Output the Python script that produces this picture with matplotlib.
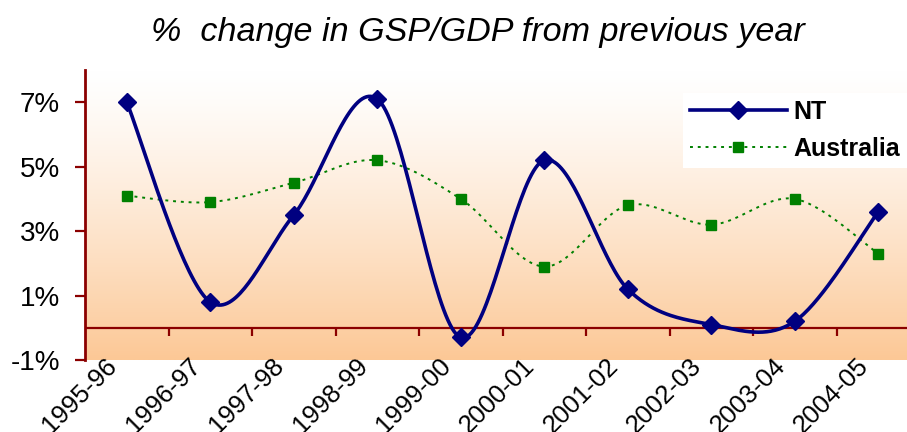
import numpy as np
import matplotlib
matplotlib.use("Agg")
import matplotlib.pyplot as plt
from matplotlib.lines import Line2D
import matplotlib.transforms as mtransforms

categories = ["1995-96", "1996-97", "1997-98", "1998-99", "1999-00",
              "2000-01", "2001-02", "2002-03", "2003-04", "2004-05"]
nt = [7.0, 0.8, 3.5, 7.1, -0.3, 5.2, 1.2, 0.1, 0.2, 3.6]
australia = [4.1, 3.9, 4.5, 5.2, 4.0, 1.9, 3.8, 3.2, 4.0, 2.3]
yticks = [-1, 1, 3, 5, 7]
ytick_labels = ["-1%", "1%", "3%", "5%", "7%"]
title = "%  change in GSP/GDP from previous year"

plt.rcParams['font.family'] = ['Liberation Sans', 'DejaVu Sans']

MAROON = "#8B0000"
NAVY = "#000080"
GREEN = "#008000"


def smooth(xs, ys, n=40):
    """Catmull-Rom (Excel-style) smoothing through the data points."""
    p = np.column_stack([xs, ys]).astype(float)
    pts = np.vstack([p[0], p, p[-1]])
    out = []
    for i in range(1, len(pts) - 2):
        p0, p1, p2, p3 = pts[i - 1], pts[i], pts[i + 1], pts[i + 2]
        c1 = p1 + (p2 - p0) / 6.0
        c2 = p2 - (p3 - p1) / 6.0
        t = np.linspace(0, 1, n)[:, None]
        seg = ((1 - t) ** 3) * p1 + 3 * ((1 - t) ** 2) * t * c1 + 3 * (1 - t) * t ** 2 * c2 + t ** 3 * p2
        out.append(seg if i == 1 else seg[1:])
    s = np.vstack(out)
    return s[:, 0], s[:, 1]


fig = plt.figure(figsize=(9.07, 4.32), dpi=100)
ax = fig.add_axes([85 / 907, 1 - 360 / 432, (920 - 85) / 907, (360 - 70) / 432])

x = np.arange(len(categories))

# gradient background (white at top, peach at bottom)
top = np.array([1.0, 1.0, 1.0])
bot = np.array([252, 200, 150]) / 255.0
g = np.linspace(0, 1, 256)[:, None] ** 1.25
grad = top * (1 - g) + bot * g
img = np.repeat(grad[:, None, :], 2, axis=1)
ax.imshow(img, extent=[0, 1, 0, 1], transform=ax.transAxes, aspect='auto', zorder=0)
ax.set_xlim(-0.5, len(categories) - 0.5)
ax.set_ylim(-1, 8)

# zero line and category ticks
ax.axhline(0, color=MAROON, lw=1.6, zorder=2)
for b in np.arange(0.5, len(categories) - 0.5, 1.0):
    ax.plot([b, b], [0, -0.25], color=MAROON, lw=1.6, zorder=2, solid_capstyle='butt')

# series
sx, sy = smooth(x, australia)
ax.plot(sx, sy, color=GREEN, lw=1.4, ls=(0, (1.5, 2.5)), zorder=3)
ax.plot(x, australia, ls='none', marker='s', ms=7.5, color=GREEN, zorder=4)

sx, sy = smooth(x, nt)
ax.plot(sx, sy, color=NAVY, lw=2.6, zorder=5)
ax.plot(x, nt, ls='none', marker='D', ms=9.5, color=NAVY, zorder=6)

# axes styling
for s in ['top', 'right', 'bottom']:
    ax.spines[s].set_visible(False)
ax.spines['left'].set_color(MAROON)
ax.spines['left'].set_linewidth(2)
ax.set_yticks(yticks)
ax.set_yticklabels(ytick_labels, fontsize=20)
ax.tick_params(axis='y', colors=MAROON, length=7, width=1.6, labelcolor='black', pad=11)

ax.set_xticks(x)
ax.tick_params(axis='x', length=0, pad=0)
labels = ax.set_xticklabels(categories, fontsize=18.5, rotation=45, ha='right', va='top',
                            rotation_mode='anchor')
offset = mtransforms.ScaledTranslation(-22 / 100, 6 / 100, fig.dpi_scale_trans)
for lab in labels:
    lab.set_transform(lab.get_transform() + offset)

fig.text(478 / 907, 1 - 32 / 432, title, ha='center', va='center', fontsize=24.6, style='italic')

handles = [Line2D([], [], color=NAVY, lw=2.6, marker='D', ms=9.5),
           Line2D([], [], color=GREEN, lw=1.4, ls=(0, (1.5, 2.5)), marker='s', ms=7)]
leg = fig.legend(handles, ["NT", "Australia"], loc='upper right',
                 bbox_to_anchor=(1.0, 1 - 93 / 432), bbox_transform=fig.transFigure,
                 frameon=True, fancybox=False, borderaxespad=0, handlelength=3.9,
                 prop={'weight': 'bold', 'size': 18}, labelspacing=0.52, borderpad=0.28,
                 handletextpad=0.25)
leg.get_frame().set_facecolor('white')
leg.get_frame().set_edgecolor('none')
leg.get_frame().set_alpha(1)

fig.savefig("out.png", dpi=100)
